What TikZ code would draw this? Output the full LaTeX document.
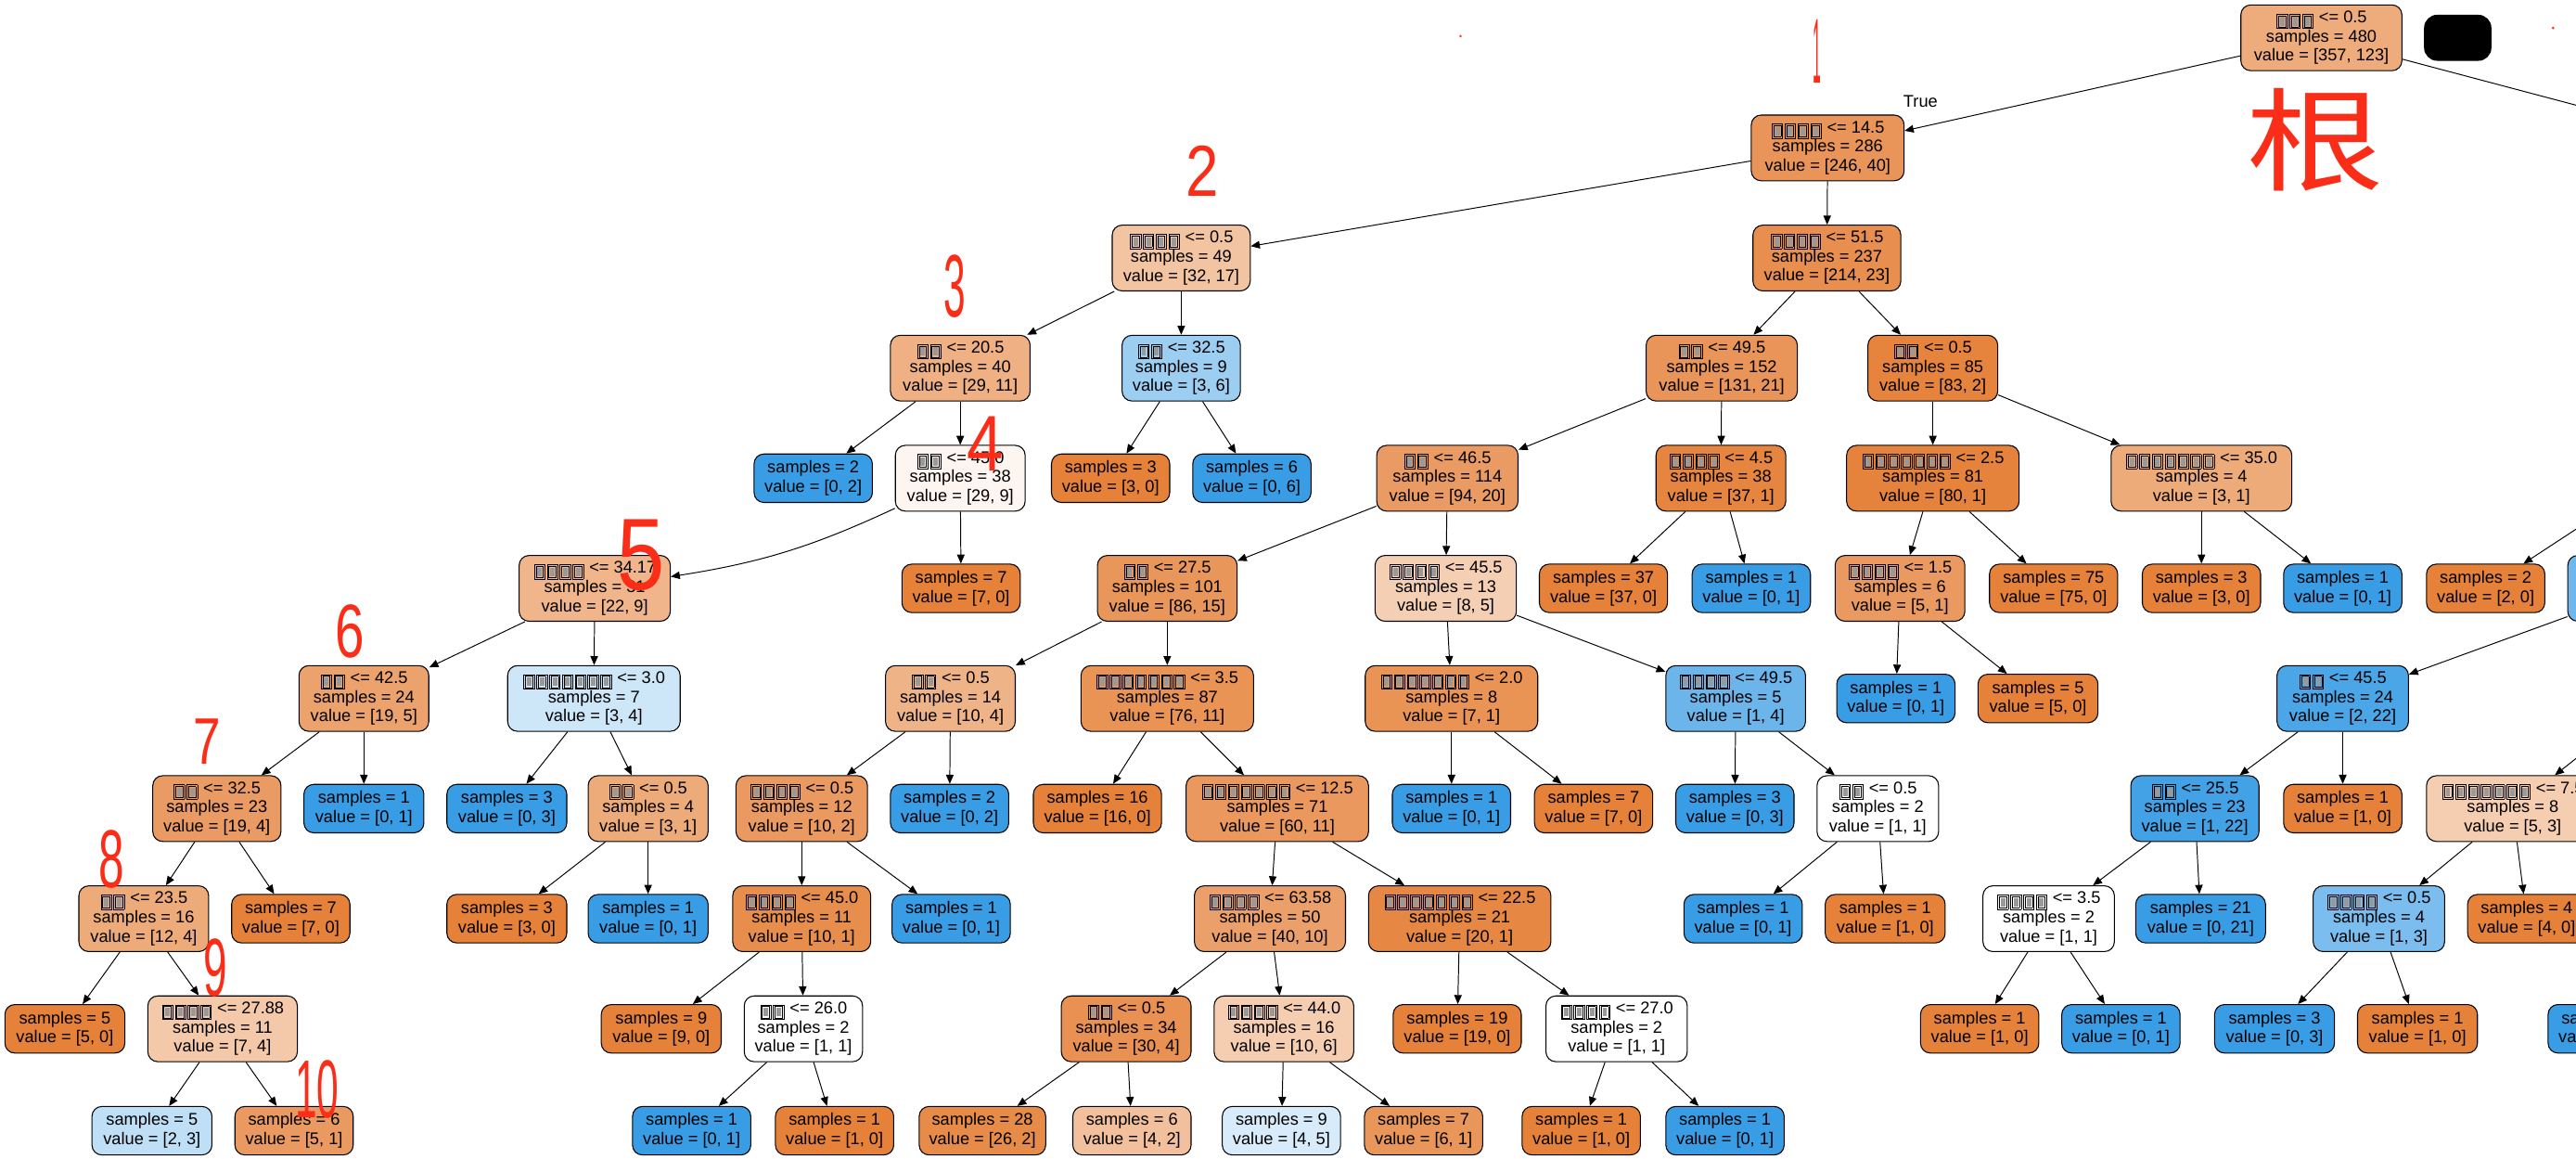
\documentclass[tikz,border=0pt]{standalone}
\usepackage{fontspec}
\usepackage{graphicx}
\setmainfont{Liberation Sans}
\newfontfamily\cjk{Noto Sans CJK SC}
\usetikzlibrary{arrows.meta}
\definecolor{org}{RGB}{229,129,57}
\definecolor{blu}{RGB}{57,157,229}
\definecolor{pen}{RGB}{250,45,25}
% missing-glyph boxes as the tree printer drew them
\newcommand\tofu{\kern0.5pt{\setlength\fboxsep{0.6pt}\setlength\fboxrule{0.4pt}\raisebox{-1.6pt}{\fbox{\fbox{\textcolor{black!40}{\rule{2.8pt}{5.2pt}}}}}}\kern0.5pt}
\newcommand\tfs[1]{\foreach\k in {1,...,#1}{\tofu}}

\begin{document}
\begin{tikzpicture}[x=1pt, y=-1pt,
        nd/.style={draw, rounded corners=6pt, line width=0.6pt, minimum width=#1pt, minimum height=40pt, inner sep=0pt, align=center, font=\fontsize{10.3}{11.6}\selectfont},
        lf/.style={nd=#1, minimum height=29.5pt},
        arrow/.style={-{Triangle[length=5.5pt,width=4.6pt]}, line width=0.55pt},
        edge/.style={line width=0.55pt},
        pennote/.style={text=pen, inner sep=0pt, font=\fontsize{20}{20}\selectfont}
    ]
        \useasboundingbox (0,0) rectangle (1568,705);
        \clip (0,0) rectangle (1568,705);

        % level 0 and 1
        \node[nd=98, fill=org!66] (root) at (1413,23) {\tfs{3} <= 0.5\\samples = 480\\value = [357, 123]};
        \node[fill=black, rounded corners=8pt, minimum width=41pt, minimum height=28pt] (blot) at (1496,23) {};
        \node[nd=93, fill=org!84] (n1) at (1112.5,90) {\tfs{4} <= 14.5\\samples = 286\\value = [246, 40]};

        % level 2 and 3
        \node[nd=84, fill=org!47] (n2) at (719,157) {\tfs{4} <= 0.5\\samples = 49\\value = [32, 17]};
        \node[nd=90, fill=org!89] (n3) at (1112,157) {\tfs{4} <= 51.5\\samples = 237\\value = [214, 23]};
        \node[nd=85, fill=org!62] (n4) at (584.5,224) {\tfs{2} <= 20.5\\samples = 40\\value = [29, 11]};
        \node[nd=72, fill=blu!50] (n5) at (719,224) {\tfs{2} <= 32.5\\samples = 9\\value = [3, 6]};
        \node[nd=92, fill=org!84] (n6) at (1048,224) {\tfs{2} <= 49.5\\samples = 152\\value = [131, 21]};
        \node[nd=79, fill=org!98] (n7) at (1176.5,224) {\tfs{2} <= 0.5\\samples = 85\\value = [83, 2]};

        % level 4
        \node[lf=72, fill=blu] (l1) at (495,291) {samples = 2\\value = [0, 2]};
        \node[nd=79, fill=org!8] (n8) at (584.5,291) {\tfs{2} <= 45.0\\samples = 38\\value = [29, 9]};
        \node[lf=72, fill=org] (l2) at (676,291) {samples = 3\\value = [3, 0]};
        \node[lf=72, fill=blu] (l3) at (762,291) {samples = 6\\value = [0, 6]};
        \node[nd=86, fill=org!79] (n9) at (881,291) {\tfs{2} <= 46.5\\samples = 114\\value = [94, 20]};
        \node[nd=79, fill=org!97] (n10) at (1047.5,291) {\tfs{4} <= 4.5\\samples = 38\\value = [37, 1]};
        \node[nd=105, fill=org!99] (n11) at (1176.5,291) {\tfs{7} <= 2.5\\samples = 81\\value = [80, 1]};
        \node[nd=110, fill=org!67] (n12) at (1340,291) {\tfs{7} <= 35.0\\samples = 4\\value = [3, 1]};

        % level 5
        \node[nd=92, fill=org!59] (n13) at (362,358) {\tfs{4} <= 34.17\\samples = 31\\value = [22, 9]};
        \node[lf=72, fill=org] (l4) at (585,358) {samples = 7\\value = [7, 0]};
        \node[nd=85, fill=org!83] (n14) at (710.5,358) {\tfs{2} <= 27.5\\samples = 101\\value = [86, 15]};
        \node[nd=86, fill=org!38] (n15) at (880,358) {\tfs{4} <= 45.5\\samples = 13\\value = [8, 5]};
        \node[lf=78, fill=org] (l5) at (976,358) {samples = 37\\value = [37, 0]};
        \node[lf=72, fill=blu] (l6) at (1066,358) {samples = 1\\value = [0, 1]};
        \node[nd=79, fill=org!80] (n16) at (1156.5,358) {\tfs{4} <= 1.5\\samples = 6\\value = [5, 1]};
        \node[lf=78, fill=org] (l7) at (1250,358) {samples = 75\\value = [75, 0]};
        \node[lf=72, fill=org] (l8) at (1340,358) {samples = 3\\value = [3, 0]};
        \node[lf=72, fill=blu] (l9) at (1426,358) {samples = 1\\value = [0, 1]};
        \node[lf=72, fill=org] (l10) at (1513,358) {samples = 2\\value = [2, 0]};
        \node[nd=94, fill=blu!72] (pR5) at (1610,358) {};

        % level 6
        \node[nd=79, fill=org!74] (n17) at (221.5,425) {\tfs{2} <= 42.5\\samples = 24\\value = [19, 5]};
        \node[nd=105, fill=blu!25] (n18) at (361.5,425) {\tfs{7} <= 3.0\\samples = 7\\value = [3, 4]};
        \node[nd=79, fill=org!60] (n19) at (578.5,425) {\tfs{2} <= 0.5\\samples = 14\\value = [10, 4]};
        \node[nd=105, fill=org!86] (n20) at (710.5,425) {\tfs{7} <= 3.5\\samples = 87\\value = [76, 11]};
        \node[nd=105, fill=org!86] (n21) at (883.5,425) {\tfs{7} <= 2.0\\samples = 8\\value = [7, 1]};
        \node[nd=85, fill=blu!75] (n22) at (1056.5,425) {\tfs{4} <= 49.5\\samples = 5\\value = [1, 4]};
        \node[lf=72, fill=blu] (l11) at (1154,425) {samples = 1\\value = [0, 1]};
        \node[lf=73, fill=org] (l12) at (1240.5,425) {samples = 5\\value = [5, 0]};
        \node[nd=80, fill=blu!91] (n23) at (1426,425) {\tfs{2} <= 45.5\\samples = 24\\value = [2, 22]};

        % level 7
        \node[nd=78, fill=org!79] (n24) at (132,492) {\tfs{2} <= 32.5\\samples = 23\\value = [19, 4]};
        \node[lf=73, fill=blu] (l13) at (221.5,492) {samples = 1\\value = [0, 1]};
        \node[lf=73, fill=blu] (l14) at (308.5,492) {samples = 3\\value = [0, 3]};
        \node[nd=73, fill=org!67] (n25) at (394.5,492) {\tfs{2} <= 0.5\\samples = 4\\value = [3, 1]};
        \node[nd=80, fill=org!80] (n26) at (488,492) {\tfs{4} <= 0.5\\samples = 12\\value = [10, 2]};
        \node[lf=72, fill=blu] (l15) at (578,492) {samples = 2\\value = [0, 2]};
        \node[lf=78, fill=org] (l16) at (668,492) {samples = 16\\value = [16, 0]};
        \node[nd=111, fill=org!82] (n27) at (777.5,492) {\tfs{7} <= 12.5\\samples = 71\\value = [60, 11]};
        \node[lf=72, fill=blu] (l17) at (883.5,492) {samples = 1\\value = [0, 1]};
        \node[lf=72, fill=org] (l18) at (970,492) {samples = 7\\value = [7, 0]};
        \node[lf=72, fill=blu] (l19) at (1056,492) {samples = 3\\value = [0, 3]};
        \node[nd=74, fill=white] (n28) at (1143,492) {\tfs{2} <= 0.5\\samples = 2\\value = [1, 1]};
        \node[nd=78, fill=blu!95] (n41) at (1336,492) {\tfs{2} <= 25.5\\samples = 23\\value = [1, 22]};
        \node[lf=72, fill=org] (l20) at (1426,492) {samples = 1\\value = [1, 0]};
        \node[nd=105, fill=org!40] (n29) at (1529.5,492) {\tfs{7} <= 7.5\\samples = 8\\value = [5, 3]};

        % level 8
        \node[nd=79, fill=org!67] (n30) at (87.5,559) {\tfs{2} <= 23.5\\samples = 16\\value = [12, 4]};
        \node[lf=72, fill=org] (l21) at (177,559) {samples = 7\\value = [7, 0]};
        \node[lf=73, fill=org] (l22) at (308.5,559) {samples = 3\\value = [3, 0]};
        \node[lf=73, fill=blu] (l23) at (394.5,559) {samples = 1\\value = [0, 1]};
        \node[nd=84, fill=org!90] (n31) at (488,559) {\tfs{4} <= 45.0\\samples = 11\\value = [10, 1]};
        \node[lf=72, fill=blu] (l24) at (579,559) {samples = 1\\value = [0, 1]};
        \node[nd=92, fill=org!75] (n32) at (773,559) {\tfs{4} <= 63.58\\samples = 50\\value = [40, 10]};
        \node[nd=111, fill=org!95] (n33) at (888.5,559) {\tfs{7} <= 22.5\\samples = 21\\value = [20, 1]};
        \node[lf=72, fill=blu] (l25) at (1061,559) {samples = 1\\value = [0, 1]};
        \node[lf=73, fill=org] (l26) at (1147.5,559) {samples = 1\\value = [1, 0]};
        \node[nd=80, fill=white] (n34) at (1247,559) {\tfs{4} <= 3.5\\samples = 2\\value = [1, 1]};
        \node[lf=79, fill=blu] (l27) at (1339.5,559) {samples = 21\\value = [0, 21]};
        \node[nd=80, fill=blu!67] (n35) at (1448,559) {\tfs{4} <= 0.5\\samples = 4\\value = [1, 3]};
        \node[lf=72, fill=org] (l28) at (1538,559) {samples = 4\\value = [4, 0]};

        % level 9
        \node[lf=73, fill=org] (l29) at (39.5,626) {samples = 5\\value = [5, 0]};
        \node[nd=91, fill=org!43] (n36) at (135.5,626) {\tfs{4} <= 27.88\\samples = 11\\value = [7, 4]};
        \node[lf=73, fill=org] (l30) at (402.5,626) {samples = 9\\value = [9, 0]};
        \node[nd=72, fill=white] (n37) at (489,626) {\tfs{2} <= 26.0\\samples = 2\\value = [1, 1]};
        \node[nd=79, fill=org!87] (n38) at (685.5,626) {\tfs{2} <= 0.5\\samples = 34\\value = [30, 4]};
        \node[nd=85, fill=org!40] (n39) at (781.5,626) {\tfs{4} <= 44.0\\samples = 16\\value = [10, 6]};
        \node[lf=78, fill=org] (l32) at (887,626) {samples = 19\\value = [19, 0]};
        \node[nd=86, fill=white] (n40) at (984,626) {\tfs{4} <= 27.0\\samples = 2\\value = [1, 1]};
        \node[lf=72, fill=org] (l33) at (1205,626) {samples = 1\\value = [1, 0]};
        \node[lf=72, fill=blu] (l34) at (1291,626) {samples = 1\\value = [0, 1]};
        \node[lf=73, fill=blu] (l35) at (1384.5,626) {samples = 3\\value = [0, 3]};
        \node[lf=73, fill=org] (l36) at (1471.5,626) {samples = 1\\value = [1, 0]};
        \node[lf=72, fill=blu] (pR9) at (1587,626) {samples = 1\\value = [0, 1]};

        % level 10
        \node[lf=73, fill=blu!33] (l37) at (92.5,688) {samples = 5\\value = [2, 3]};
        \node[lf=72, fill=org!80] (l38) at (179,688) {samples = 6\\value = [5, 1]};
        \node[lf=72, fill=blu] (l39) at (421,688) {samples = 1\\value = [0, 1]};
        \node[lf=72, fill=org] (l40) at (508,688) {samples = 1\\value = [1, 0]};
        \node[lf=77, fill=org!92] (l41) at (598,688) {samples = 28\\value = [26, 2]};
        \node[lf=72, fill=org!50] (l42) at (689,688) {samples = 6\\value = [4, 2]};
        \node[lf=72, fill=blu!20] (l43) at (780,688) {samples = 9\\value = [4, 5]};
        \node[lf=72, fill=org!83] (l44) at (866.5,688) {samples = 7\\value = [6, 1]};
        \node[lf=72, fill=org] (l45) at (962.5,688) {samples = 1\\value = [1, 0]};
        \node[lf=72, fill=blu] (l46) at (1050,688) {samples = 1\\value = [0, 1]};

        % loose ends running off the right edge
        \coordinate (rootR) at (1568,64);
        \coordinate (offA) at (1568,322);
        \coordinate (offB) at (1580,452);

        \draw[arrow] (root) -- (n1);
        \node[font=\fontsize{10.3}{11.6}\selectfont] (truelbl) at (1169,62) {True};
        \draw[edge] (root) -- (rootR);
        \draw[arrow] (n1) -- (n2);
        \draw[arrow] (n1) -- (n3);
        \draw[arrow] (n2) -- (n4);
        \draw[arrow] (n2) -- (n5);
        \draw[arrow] (n3) -- (n6);
        \draw[arrow] (n3) -- (n7);
        \draw[arrow] (n4) -- (l1);
        \draw[arrow] (n4) -- (n8);
        \draw[arrow] (n5) -- (l2);
        \draw[arrow] (n5) -- (l3);
        \draw[arrow] (n6) -- (n9);
        \draw[arrow] (n6) -- (n10);
        \draw[arrow] (n7) -- (n11);
        \draw[arrow] (n7) -- (n12);
        \draw[arrow] (n8) to[bend left=8] (n13);
        \draw[arrow] (n8) -- (l4);
        \draw[arrow] (n9) -- (n14);
        \draw[arrow] (n9) -- (n15);
        \draw[arrow] (n10) -- (l5);
        \draw[arrow] (n10) -- (l6);
        \draw[arrow] (n11) -- (n16);
        \draw[arrow] (n11) -- (l7);
        \draw[arrow] (n12) -- (l8);
        \draw[arrow] (n12) -- (l9);
        \draw[arrow] (offA) -- (l10);
        \draw[arrow] (pR5) -- (n23);
        \draw[arrow] (n13) -- (n17);
        \draw[arrow] (n13) -- (n18);
        \draw[arrow] (n14) -- (n19);
        \draw[arrow] (n14) -- (n20);
        \draw[arrow] (n15) -- (n21);
        \draw[arrow] (n15) -- (n22);
        \draw[arrow] (n16) -- (l11);
        \draw[arrow] (n16) -- (l12);
        \draw[arrow] (n17) -- (n24);
        \draw[arrow] (n17) -- (l13);
        \draw[arrow] (n18) -- (l14);
        \draw[arrow] (n18) -- (n25);
        \draw[arrow] (n19) -- (n26);
        \draw[arrow] (n19) -- (l15);
        \draw[arrow] (n20) -- (l16);
        \draw[arrow] (n20) -- (n27);
        \draw[arrow] (n21) -- (l17);
        \draw[arrow] (n21) -- (l18);
        \draw[arrow] (n22) -- (l19);
        \draw[arrow] (n22) -- (n28);
        \draw[arrow] (n23) -- (n41);
        \draw[arrow] (n23) -- (l20);
        \draw[arrow] (offB) -- (n29);
        \draw[arrow] (n24) -- (n30);
        \draw[arrow] (n24) -- (l21);
        \draw[arrow] (n25) -- (l22);
        \draw[arrow] (n25) -- (l23);
        \draw[arrow] (n26) -- (n31);
        \draw[arrow] (n26) -- (l24);
        \draw[arrow] (n27) -- (n32);
        \draw[arrow] (n27) -- (n33);
        \draw[arrow] (n28) -- (l25);
        \draw[arrow] (n28) -- (l26);
        \draw[arrow] (n41) -- (n34);
        \draw[arrow] (n41) -- (l27);
        \draw[arrow] (n29) -- (n35);
        \draw[arrow] (n29) -- (l28);
        \draw[arrow] (n30) -- (l29);
        \draw[arrow] (n30) -- (n36);
        \draw[arrow] (n31) -- (l30);
        \draw[arrow] (n31) -- (n37);
        \draw[arrow] (n32) -- (n38);
        \draw[arrow] (n32) -- (n39);
        \draw[arrow] (n33) -- (l32);
        \draw[arrow] (n33) -- (n40);
        \draw[arrow] (n34) -- (l33);
        \draw[arrow] (n34) -- (l34);
        \draw[arrow] (n35) -- (l35);
        \draw[arrow] (n35) -- (l36);
        \draw[arrow] (n36) -- (l37);
        \draw[arrow] (n36) -- (l38);
        \draw[arrow] (n37) -- (l39);
        \draw[arrow] (n37) -- (l40);
        \draw[arrow] (n38) -- (l41);
        \draw[arrow] (n38) -- (l42);
        \draw[arrow] (n39) -- (l43);
        \draw[arrow] (n39) -- (l44);
        \draw[arrow] (n40) -- (l45);
        \draw[arrow] (n40) -- (l46);

        % red pen marks
        \node[pennote] (mk1) at (1106,31) {\scalebox{0.45}[2.8]{1}};
        \node[pennote] (mkroot) at (1409,85) {\scalebox{4.2}[3.4]{\cjk 根}};
        \node[pennote] (mk2) at (732,104) {\scalebox{1.8}[2.2]{2}};
        \node[pennote] (mk3) at (581,174) {\scalebox{1.2}[2.7]{3}};
        \node[pennote] (mk4) at (600,270) {\scalebox{2.0}[2.4]{4}};
        \node[pennote] (mk5) at (390,338) {\scalebox{2.6}[3.1]{5}};
        \node[pennote] (mk6) at (213,384) {\scalebox{1.6}[2.3]{6}};
        \node[pennote] (mk7) at (126,451) {\scalebox{1.5}[2.0]{7}};
        \node[pennote] (mk8) at (68,523) {\scalebox{1.4}[2.5]{8}};
        \node[pennote] (mk9) at (131,589) {\scalebox{1.3}[2.5]{9}};
        \node[pennote] (mk10) at (193,663) {\scalebox{1.2}[2.5]{10}};
        \fill[pen] (889,22) circle (0.8);
        \fill[pen] (1554,17) circle (0.8);
    \end{tikzpicture}
\end{document}
